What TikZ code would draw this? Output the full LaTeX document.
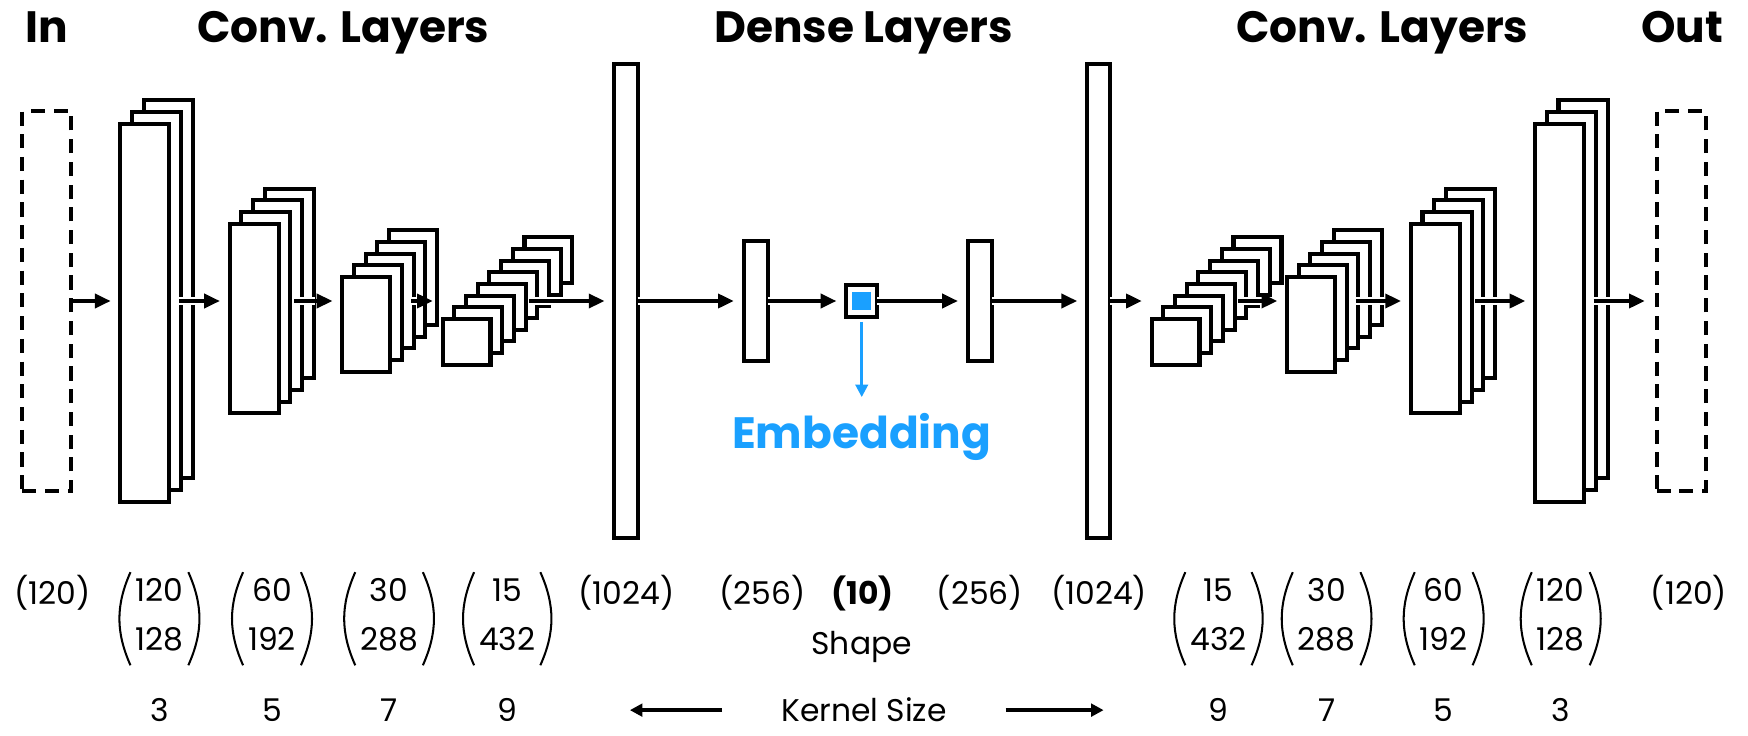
\documentclass[tikz,border=0pt]{standalone}
\usepackage{fontspec}
\setmainfont{Poppins}
\usepackage{xcolor}
\definecolor{embblue}{RGB}{26,160,255}
\usepackage{tikz}
\usetikzlibrary{arrows.meta, positioning, calc}

% stack of feature maps: name, last index, x of front map, width, height
\newcommand{\featstack}[5]{%
  \foreach \i in {#2,...,0}{%
    \node (#1-\i) [maplayer, minimum width=#4, minimum height=#5]
      at ({#3+\i*10.5}, {270+#2*5.25-\i*10.5}) {};
  }%
  \coordinate (#1-out) at ($(#1-0.east)!0.5!(#1-#2.east)+(-2,0)$);
}
% two-row shape with parentheses: name, x, top, bottom
\newcommand{\shapepair}[4]{%
  \node (#1) [pairnode] at (#2,555) {\begin{tabular}{@{}c@{}}#3\\[7pt]#4\end{tabular}};
  \draw[paren] (#1.north west) to[bend right=24] (#1.south west);
  \draw[paren] (#1.north east) to[bend left=24] (#1.south east);
}

\begin{document}
\begin{tikzpicture}[
    x=0.025cm, y=-0.025cm,
    >={Triangle[length=10pt,width=9pt]},
    font=\fontsize{20}{24}\selectfont,
    maplayer/.style={draw, fill=white, line width=2.6pt, inner sep=0pt, outer sep=0pt},
    ioframe/.style={draw, dash pattern=on 9pt off 5.5pt, line width=2.6pt, inner sep=0pt, minimum width=1.1cm, minimum height=8.5cm},
    flow/.style={->, line width=2.1pt, shorten >=0.22cm, preaction={draw, white, line width=5.2pt, -, shorten >=0.6cm}},
    embflow/.style={-{Triangle[length=8pt,width=8pt]}, embblue, line width=1.7pt, shorten <=0.12cm, shorten >=0.35cm},
    kflow/.style={-{Triangle[length=8pt,width=8pt]}, line width=2.1pt},
    header/.style={font=\fontsize{28}{32}\selectfont\bfseries, anchor=base, inner sep=0pt},
    pairnode/.style={inner xsep=3pt, inner ysep=2pt},
    paren/.style={line width=1.3pt}
  ]
  \useasboundingbox (0,0) rectangle (1568,660);

  % headers
  \node (hin) [header] at (42,38) {In};
  \node (hconv) [header] at (308,38) {Conv. Layers};
  \node (hdense) [header] at (774.5,38) {Dense Layers};
  \node (hdeconv) [header] at (1240,38) {Conv. Layers};
  \node (hout) [header] at (1509,38) {Out};

  % layers
  \node (in) [ioframe] at (42,270) {};
  \featstack{c1}{2}{130}{1.1cm}{8.475cm}
  \featstack{c2}{3}{228}{1.1cm}{4.25cm}
  \featstack{c3}{4}{328.5}{1.075cm}{2.125cm}
  \featstack{c4}{7}{418.5}{1.075cm}{1.025cm}
  \node (d1) [maplayer, minimum width=0.525cm, minimum height=10.625cm] at (561.5,270) {};
  \node (h1) [maplayer, minimum width=0.55cm, minimum height=2.7cm] at (678,270) {};
  \node (emb) [maplayer, minimum size=0.7cm] at (773,270) {};
  \node (embcore) [fill=embblue, minimum size=0.42cm, inner sep=0pt] at (emb.center) {};
  \node (h2) [maplayer, minimum width=0.55cm, minimum height=2.7cm] at (879,270) {};
  \node (d2) [maplayer, minimum width=0.525cm, minimum height=10.625cm] at (985.5,270) {};
  \featstack{u4}{7}{1054.5}{1.075cm}{1.025cm}
  \featstack{u3}{4}{1176}{1.075cm}{2.125cm}
  \featstack{u2}{3}{1287.5}{1.1cm}{4.25cm}
  \featstack{u1}{2}{1399}{1.1cm}{8.475cm}
  \node (out) [ioframe] at (1508,270) {};

  \node (embtext) [font=\fontsize{28}{32}\selectfont\bfseries, text=embblue, anchor=base, inner sep=0pt] at (773,402) {Embedding};

  % connections
  \draw[flow] (in.east) -- (in.east -| c1-0.west);
  \draw[flow] (c1-out) -- (c1-out -| c2-0.west);
  \draw[flow] (c2-out) -- (c2-out -| c3-0.west);
  \draw[flow] (c3-out) -- (c3-out -| c4-0.west);
  \draw[flow] (c4-out) -- (c4-out -| d1.west);
  \draw[flow] (d1.east) -- (h1.west);
  \draw[flow] (h1.east) -- (emb.west);
  \draw[flow] (emb.east) -- (h2.west);
  \draw[flow] (h2.east) -- (d2.west);
  \draw[flow] (d2.east) -- (d2.east -| u4-0.west);
  \draw[flow] (u4-out) -- (u4-out -| u3-0.west);
  \draw[flow] (u3-out) -- (u3-out -| u2-0.west);
  \draw[flow] (u2-out) -- (u2-out -| u1-0.west);
  \draw[flow] (u1-out) -- (u1-out -| out.west);
  \draw[embflow] (emb.south) -- (embtext.north);

  % shapes
  \node (s-in) at (47,532) {(120)};
  \shapepair{s-c1}{143}{120}{128}
  \shapepair{s-c2}{244}{60}{192}
  \shapepair{s-c3}{349}{30}{288}
  \shapepair{s-c4}{455}{15}{432}
  \node (s-d1) at (562,532) {(1024)};
  \node (s-h1) at (684,532) {(256)};
  \node (s-emb) at (774,532) {\bfseries(10)};
  \node (s-h2) at (879,532) {(256)};
  \node (s-d2) at (986,532) {(1024)};
  \shapepair{s-u4}{1093}{15}{432}
  \shapepair{s-u3}{1190}{30}{288}
  \shapepair{s-u2}{1295}{60}{192}
  \shapepair{s-u1}{1400}{120}{128}
  \node (s-out) at (1515,532) {(120)};
  \node (shape) at (773,580) {Shape};

  % kernel sizes
  \foreach \kx/\kv in {143/3, 244/5, 349/7, 455/9, 1093/9, 1190/7, 1295/5, 1400/3}
    \node (k-\kx) at (\kx,637) {\kv};
  \node (ks) at (775,637) {Kernel Size};
  \coordinate (kl) at (565,637);
  \coordinate (kr) at (990,637);
  \draw[kflow] (ks.west) ++(-1.2cm,0) -- (kl);
  \draw[kflow] (ks.east) ++(1.2cm,0) -- (kr);
\end{tikzpicture}
\end{document}
